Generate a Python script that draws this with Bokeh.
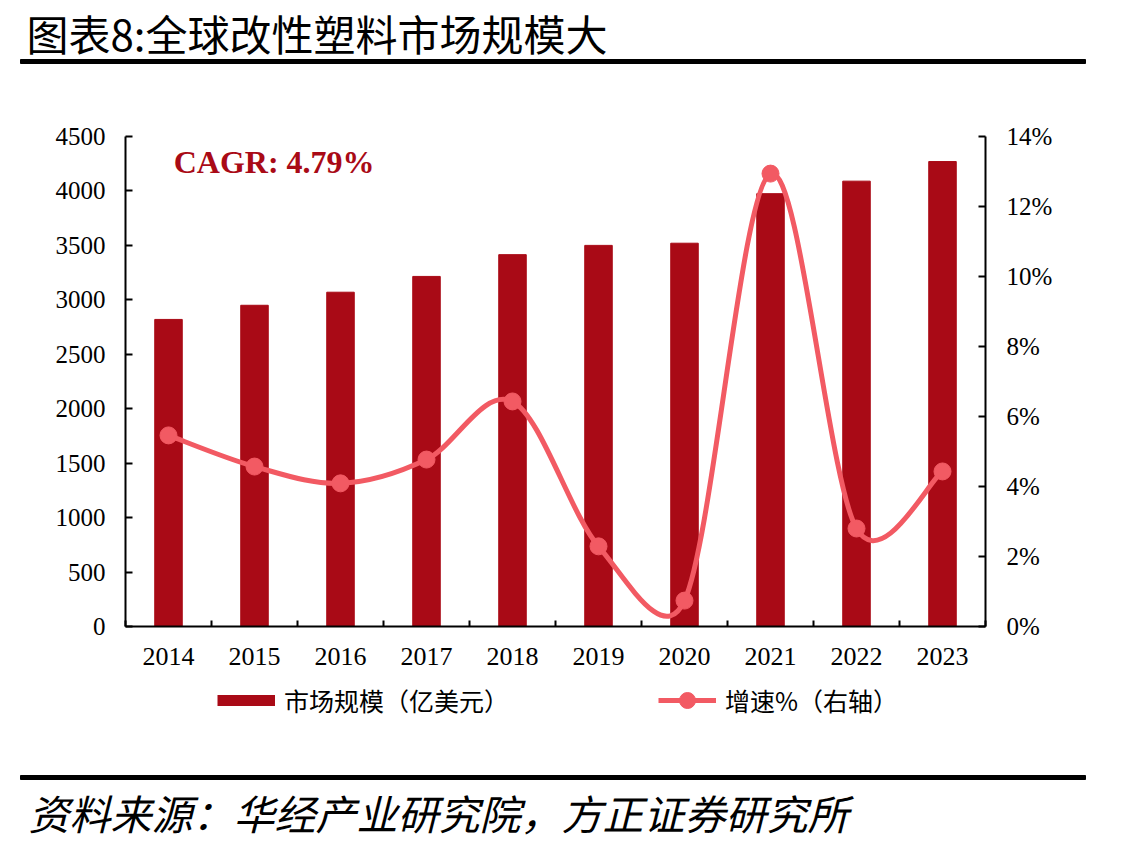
import math
from bokeh.plotting import figure
from bokeh.models import (Range1d, LinearAxis, FixedTicker, PrintfTickFormatter,
                          Label, Legend, LegendItem)
from bokeh.embed import file_html
from bokeh.resources import INLINE

# ---------------- data ----------------
years = ["2014", "2015", "2016", "2017", "2018", "2019", "2020", "2021", "2022", "2023"]
market_size = [2820, 2950, 3070, 3215, 3415, 3500, 3520, 3975, 4090, 4270]   # 亿美元
growth = [5.46, 4.57, 4.09, 4.77, 6.43, 2.29, 0.74, 12.94, 2.80, 4.43]       # %
left_ticks = [0, 500, 1000, 1500, 2000, 2500, 3000, 3500, 4000, 4500]
right_ticks = [0, 2, 4, 6, 8, 10, 12, 14]
title_text = "图表8:全球改性塑料市场规模大"
source_text = "资料来源：华经产业研究院，方正证券研究所"
cagr_text = "CAGR: 4.79%"
bar_label = "市场规模（亿美元）"
line_label = "增速%（右轴）"

BAR = "#A90A16"
LINE = "#F25A63"
SERIF = "Liberation Serif"
CJK = "Noto Sans CJK SC"

W = 1130
TOP_H, MAIN_H, BOT_H = 70, 610, 168   # page strips: 0..70, 70..680, 680..848
BL, BR, BT, BB = 125, 145, 66, 54      # main chart borders -> frame 860 x 490


def strip(h):
    f = figure(width=W, height=h, x_range=Range1d(0, W), y_range=Range1d(h, 0),
               output_backend="svg", toolbar_location=None, x_axis_type=None, y_axis_type=None,
               min_border=0, min_border_left=0, min_border_right=0, min_border_top=0,
               min_border_bottom=0, outline_line_color=None)
    f.grid.visible = False
    return f


# ---------------- title strip ----------------
top = strip(TOP_H)
top.add_layout(Label(x=26, y=32, text=title_text, text_font=CJK, text_font_size="42px",
                     text_baseline="middle", text_color="black"))
top.quad(left=[20], right=[1085], top=[59], bottom=[63], color="black")

# ---------------- main chart ----------------
xc = [i + 0.5 for i in range(len(years))]
y_right_max = right_ticks[-1]
p = figure(width=W, height=MAIN_H, x_range=Range1d(0, len(years)),
           y_range=Range1d(0, left_ticks[-1]),
           output_backend="svg", toolbar_location=None,
           min_border_left=BL, min_border_right=BR, min_border_top=BT, min_border_bottom=BB)
p.outline_line_color = None
p.grid.visible = False
p.extra_y_ranges = {"right": Range1d(0, y_right_max)}

bars = p.vbar(x=xc, top=market_size, width=0.32, color=BAR)

# Excel-style smoothed line: bezier segments, tangents (1/6 of neighbour chord)
# limited to half the segment length, evaluated in screen space.
kx = (W - BL - BR) / len(years)              # px per x unit
ky = (MAIN_H - BT - BB) / y_right_max         # px per % unit
n = len(growth)
pts = [(xc[i] * kx, growth[i] * ky) for i in range(n)]


def dist(a, b):
    return math.hypot(a[0] - b[0], a[1] - b[1])


x0, y0, x1, y1, cx0, cy0, cx1, cy1 = [], [], [], [], [], [], [], []
for i in range(n - 1):
    P0, P1, P2, P3 = pts[max(i - 1, 0)], pts[i], pts[i + 1], pts[min(i + 2, n - 1)]
    d12, d02, d13 = dist(P1, P2), dist(P0, P2), dist(P1, P3)
    f1 = 1 / 6 if d02 / 6 <= d12 / 2 else d12 / (2 * d02)
    f2 = 1 / 6 if d13 / 6 <= d12 / 2 else d12 / (2 * d13)
    c1 = (P1[0] + f1 * (P2[0] - P0[0]), P1[1] + f1 * (P2[1] - P0[1]))
    c2 = (P2[0] - f2 * (P3[0] - P1[0]), P2[1] - f2 * (P3[1] - P1[1]))
    x0.append(xc[i]); y0.append(growth[i])
    x1.append(xc[i + 1]); y1.append(growth[i + 1])
    cx0.append(c1[0] / kx); cy0.append(c1[1] / ky)
    cx1.append(c2[0] / kx); cy1.append(c2[1] / ky)

curve = p.bezier(x0=x0, y0=y0, x1=x1, y1=y1, cx0=cx0, cy0=cy0, cx1=cx1, cy1=cy1,
                 line_color=LINE, line_width=5, y_range_name="right")
dots = p.scatter(x=xc, y=growth, size=17, color=LINE, y_range_name="right")

# axes
xa = p.xaxis[0]
xa.ticker = FixedTicker(ticks=xc, minor_ticks=list(range(len(years) + 1)))
xa.major_label_overrides = {x: y for x, y in zip(xc, years)}
xa.major_tick_line_color = None
xa.major_tick_in = 0
xa.major_tick_out = 0
xa.minor_tick_in = 6
xa.minor_tick_out = 0
xa.minor_tick_line_width = 2
xa.minor_tick_line_color = "black"
xa.axis_line_width = 2
xa.major_label_standoff = 21
xa.major_label_text_font = SERIF
xa.major_label_text_font_size = "26px"
xa.major_label_text_color = "black"

ya = p.yaxis[0]
ya.ticker = FixedTicker(ticks=left_ticks)
ya.major_tick_in = 7
ya.major_tick_out = 0
ya.major_tick_line_width = 2
ya.minor_tick_line_color = None
ya.axis_line_width = 2
ya.major_label_standoff = 20
ya.major_label_text_font = SERIF
ya.major_label_text_font_size = "25px"
ya.major_label_text_color = "black"

ra = LinearAxis(y_range_name="right", ticker=FixedTicker(ticks=right_ticks),
                formatter=PrintfTickFormatter(format="%d%%"))
ra.major_tick_in = 7
ra.major_tick_out = 0
ra.major_tick_line_width = 2
ra.minor_tick_line_color = None
ra.axis_line_width = 2
ra.major_label_standoff = 21
ra.major_label_text_font = SERIF
ra.major_label_text_font_size = "25px"
ra.major_label_text_color = "black"
p.add_layout(ra, "right")

p.add_layout(Label(x=0.56, y=4270, text=cagr_text, text_font=SERIF, text_font_style="bold",
                   text_font_size="32px", text_color=BAR, text_baseline="middle"))

# ---------------- legend + source strip ----------------
bot = strip(BOT_H)
nan = [float("nan")]
# legend keys: single NaN-point proxies carrying the series styles (nothing drawn)
bar_key = bot.line(x=nan, y=nan, line_color=BAR, line_width=11, line_cap="butt")
line_key = bot.line(x=nan, y=nan, line_color=LINE, line_width=5)
dot_key = bot.scatter(x=nan, y=nan, size=17, color=LINE)
legend = Legend(items=[LegendItem(label=bar_label, renderers=[bar_key]),
                       LegendItem(label=line_label, renderers=[line_key, dot_key])],
                orientation="horizontal", location=(217, BOT_H - 40), padding=0, margin=0,
                border_line_color=None, background_fill_alpha=0,
                label_text_font=CJK, label_text_font_size="25px", label_text_color="black",
                glyph_width=58, glyph_height=40, label_height=40, label_standoff=9,
                spacing=149)
bot.add_layout(legend)

bot.quad(left=[20], right=[1085], top=[95], bottom=[99], color="black")
bot.add_layout(Label(x=28, y=131, text=source_text, text_font=CJK, text_font_size="41px",
                     text_font_style="italic", text_baseline="middle", text_color="black"))

open("out.html", "w").write(file_html([top, p, bot], INLINE))
